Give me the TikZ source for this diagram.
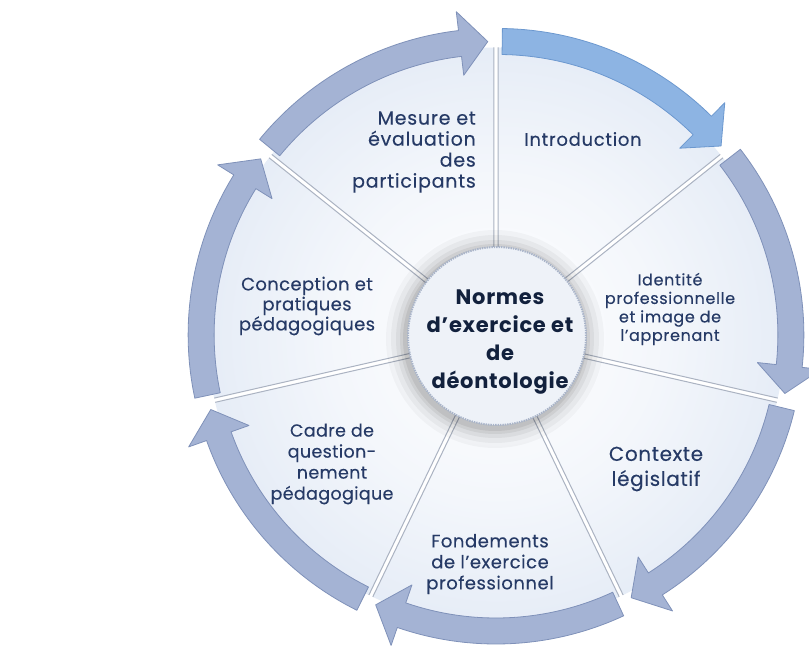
\documentclass[tikz,border=0pt]{standalone}
\usepackage{fontspec}
\setmainfont{Poppins}
\usetikzlibrary{calc}
\definecolor{wedgeblue}{HTML}{C6D5EC}
\definecolor{txt}{HTML}{263A66}
\definecolor{hubtxt}{HTML}{12213D}
\definecolor{gdark}{HTML}{7F91B9}
\definecolor{gmid}{HTML}{A4B3D4}
\definecolor{glight}{HTML}{CDD6EA}
\definecolor{bdark}{HTML}{6C98CF}
\definecolor{bmid}{HTML}{8DB4E3}
\definecolor{blight}{HTML}{BDD4F1}
\definecolor{hubin}{HTML}{EEF2F8}
\definecolor{hubout}{HTML}{DAE2EE}
\definecolor{hubedge}{HTML}{A9B4C9}
\definecolor{wedgeedge}{HTML}{ABB3C2}
\newcommand\labfont[3]{\fontsize{#1}{#2}\selectfont\addfontfeatures{LetterSpace=#3,FakeBold=0.25}}
\pgfdeclareradialshading{wedgeshade}{\pgfpoint{0bp}{0bp}}{color(0bp)=(white); color(14bp)=(wedgeblue!20!white); color(30bp)=(wedgeblue!55!white); color(50bp)=(wedgeblue)}
\pgfdeclareradialshading{bandgray}{\pgfpoint{0bp}{0bp}}{color(0bp)=(gmid); color(39bp)=(gmid); color(41.9bp)=(gdark); color(42.6bp)=(gmid); color(44.4bp)=(gmid); color(45.2bp)=(glight); color(45.9bp)=(gdark); color(47bp)=(gmid); color(50bp)=(gmid)}
\pgfdeclareradialshading{bandblue}{\pgfpoint{0bp}{0bp}}{color(0bp)=(bmid); color(39bp)=(bmid); color(41.9bp)=(bdark); color(42.6bp)=(bmid); color(44.4bp)=(bmid); color(45.2bp)=(blight); color(45.9bp)=(bdark); color(47bp)=(bmid); color(50bp)=(bmid)}
\pgfdeclareradialshading{hubshade}{\pgfpoint{0bp}{0bp}}{color(0bp)=(hubin); color(30bp)=(hubin); color(50bp)=(hubout)}
\begin{document}
\begin{tikzpicture}[x=1pt,y=1pt,
  lab/.style={text=txt, align=center, inner sep=0pt},
  wedgeline/.style={draw=wedgeedge, line width=1pt},
  grayedge/.style={draw=gdark, line width=0.8pt, line join=round},
  blueedge/.style={draw=bdark, line width=0.8pt, line join=round},
  hubnode/.style={circle, minimum size=178pt, inner sep=0pt, shading=hubshade,
    draw=hubedge, line width=2pt, dash pattern=on 1.4pt off 1pt},
  hubtext/.style={align=center, inner sep=0pt, text=hubtxt,
    font=\bfseries\fontsize{21}{28}\selectfont\addfontfeatures{LetterSpace=3.5}}]
\fill[white] (0,0) rectangle (809,-647);
\useasboundingbox (0,0) rectangle (809,-647);
\coordinate (C) at (496,-336);
% wedges
\foreach \i in {0,...,6}{
  \pgfmathsetmacro\a{90-\i*360/7}
  \pgfmathsetmacro\b{\a-360/7}
  \pgfmathsetmacro\m{\a-180/7}
  \begin{scope}[shift={($(C)+(\m:5)$)}]
    \begin{scope}
      \clip (0,0) -- (\a:284) arc[start angle=\a, end angle=\b, radius=284] -- cycle;
      \shade[shading=wedgeshade] (0,0) circle[radius=284];
    \end{scope}
    \draw[wedgeline] (\b:284) -- (0,0) -- (\a:284);
  \end{scope}
}
% arrows
\foreach \i in {0,...,6}{
  \pgfmathsetmacro\a{90-\i*360/7}
  \pgfmathsetmacro\m{\a-180/7}
  \pgfmathsetmacro\s{\a-0.8}
  \pgfmathsetmacro\e{\a-360/7+1.2}
  \pgfmathsetmacro\h{\e+5.5}
  \ifnum\i=0 \def\shd{bandblue}\def\edg{blueedge}\else\def\shd{bandgray}\def\edg{grayedge}\fi
  \begin{scope}[shift={($(C)+(\m:5)$)}]
    \begin{scope}
      \clip (\s:303) arc[start angle=\s, end angle=\h, radius=303] -- (\h:322) -- (\e:290) -- (\h:258) -- (\h:277) arc[start angle=\h, end angle=\s, radius=277] -- cycle;
      \shade[shading=\shd] (0,0) circle[radius=330];
    \end{scope}
    \draw[\edg] (\s:303) arc[start angle=\s, end angle=\h, radius=303] -- (\h:322) -- (\e:290) -- (\h:258) -- (\h:277) arc[start angle=\h, end angle=\s, radius=277] -- cycle;
  \end{scope}
}
% hub shadow and hub
\coordinate (hc) at (497,-336);
\foreach \k/\o in {20/0.03, 15/0.04, 10/0.05, 6/0.06, 3/0.07}{
  \fill[black, opacity=\o] ($(hc)+(-2,-3)$) circle[radius=89+\k];
}
\node[hubnode] (hub) at (hc) {};
\node[hubtext] (hubt) at (500,-342) {Normes\\d’exercice et\\de\\déontologie};
% labels
\node[lab, align=right, anchor=east, font=\labfont{19}{21}{4}] (t6) at (476,-152) {Mesure et\\évaluation\\des\\participants};
\node[lab, font=\labfont{18}{21}{4}] (t0) at (583,-139) {Introduction};
\node[lab, font=\labfont{16}{18.5}{4}] (t1) at (670,-309) {Identité\\professionnelle\\et image de\\l’apprenant};
\node[lab, font=\labfont{20}{25}{3}] (t2) at (656,-469) {Contexte\\législatif};
\node[lab, font=\labfont{18}{21}{3}] (t3) at (490,-564) {Fondements\\de l’exercice\\professionnel};
\node[lab, font=\labfont{17.5}{21}{2}] (t4) at (332,-464) {Cadre de\\question-\\nement\\pédagogique};
\node[lab, font=\labfont{18}{20}{2}] (t5) at (307,-306) {Conception et\\pratiques\\pédagogiques};
\end{tikzpicture}
\end{document}
